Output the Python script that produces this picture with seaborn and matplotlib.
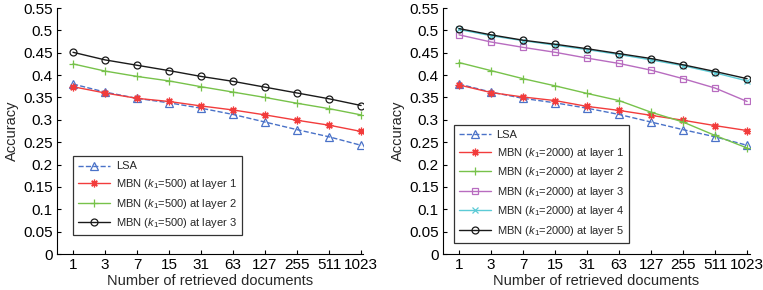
import numpy as np
import pandas as pd
import matplotlib
matplotlib.use("Agg")
import matplotlib.pyplot as plt
import seaborn as sns

# ---------------- data ----------------
docs = ["1", "3", "7", "15", "31", "63", "127", "255", "511", "1023"]
yticks = [0, 0.05, 0.1, 0.15, 0.2, 0.25, 0.3, 0.35, 0.4, 0.45, 0.5, 0.55]

lsa = [0.380, 0.362, 0.348, 0.338, 0.326, 0.312, 0.295, 0.278, 0.262, 0.243]

# left panel: k1 = 500
k500_l1 = [0.374, 0.360, 0.348, 0.341, 0.331, 0.322, 0.311, 0.299, 0.288, 0.274]
k500_l2 = [0.425, 0.409, 0.397, 0.387, 0.374, 0.362, 0.350, 0.337, 0.325, 0.311]
k500_l3 = [0.451, 0.434, 0.422, 0.410, 0.397, 0.386, 0.373, 0.360, 0.347, 0.332]

# right panel: k1 = 2000
k2000_l1 = [0.378, 0.361, 0.351, 0.343, 0.330, 0.321, 0.310, 0.299, 0.287, 0.276]
k2000_l2 = [0.428, 0.410, 0.392, 0.376, 0.359, 0.343, 0.317, 0.295, 0.265, 0.237]
k2000_l3 = [0.490, 0.474, 0.462, 0.451, 0.438, 0.426, 0.411, 0.392, 0.371, 0.341]
k2000_l4 = [0.502, 0.488, 0.477, 0.467, 0.457, 0.446, 0.434, 0.421, 0.405, 0.387]
k2000_l5 = [0.504, 0.490, 0.478, 0.469, 0.459, 0.448, 0.437, 0.423, 0.408, 0.392]

left_labels = ["LSA",
               r"MBN ($\mathit{k}_1$=500) at layer 1",
               r"MBN ($\mathit{k}_1$=500) at layer 2",
               r"MBN ($\mathit{k}_1$=500) at layer 3"]
right_labels = ["LSA",
                r"MBN ($\mathit{k}_1$=2000) at layer 1",
                r"MBN ($\mathit{k}_1$=2000) at layer 2",
                r"MBN ($\mathit{k}_1$=2000) at layer 3",
                r"MBN ($\mathit{k}_1$=2000) at layer 4",
                r"MBN ($\mathit{k}_1$=2000) at layer 5"]

# ---------------- style ----------------
sns.set_style("ticks")
plt.rcParams["font.family"] = ["Liberation Sans", "DejaVu Sans"]
plt.rcParams["mathtext.fontset"] = "custom"
plt.rcParams["mathtext.rm"] = "Liberation Sans"
plt.rcParams["mathtext.it"] = "Liberation Sans:italic"
plt.rcParams["xtick.direction"] = "in"
plt.rcParams["ytick.direction"] = "in"

C_BLUE = "#4a72c8"
C_RED = "#f23c3c"
C_GREEN = "#77c24a"
C_MAG = "#b86cc0"
C_CYAN = "#5ccbd6"
C_BLACK = "#1a1a1a"

styles = {
    "lsa": dict(color=C_BLUE, marker="^", linestyle="--", ms=5.2),
    "l1": dict(color=C_RED, marker=(8, 2, 0), linestyle="-", ms=5.5),
    "l2": dict(color=C_GREEN, marker="+", linestyle="-", ms=6),
    "l3sq": dict(color=C_MAG, marker="s", linestyle="-", ms=5),
    "l4": dict(color=C_CYAN, marker="x", linestyle="-", ms=4.5),
    "circ": dict(color=C_BLACK, marker="o", linestyle="-", ms=5),
}

fig = plt.figure(figsize=(7.63, 2.90), dpi=100)
axL = fig.add_axes([57 / 763, 36 / 290, 306 / 763, 246 / 290])
axR = fig.add_axes([443 / 763, 36 / 290, 307 / 763, 246 / 290])

pos = np.arange(len(docs))


def draw(ax, series, labels, style_keys):
    for vals, lab, key in zip(series, labels, style_keys):
        st = styles[key]
        df = pd.DataFrame({"x": pos, "y": vals})
        sns.lineplot(data=df, x="x", y="y", ax=ax, color=st["color"],
                     marker=st["marker"], linestyle=st["linestyle"],
                     markersize=st["ms"], markerfacecolor="none",
                     markeredgecolor=st["color"], markeredgewidth=0.9,
                     linewidth=1.0, label=lab, legend=False)


draw(axL, [lsa, k500_l1, k500_l2, k500_l3], left_labels,
     ["lsa", "l1", "l2", "circ"])
draw(axR, [lsa, k2000_l1, k2000_l2, k2000_l3, k2000_l4, k2000_l5], right_labels,
     ["lsa", "l1", "l2", "l3sq", "l4", "circ"])

for ax, xmax in ((axL, 9.06), (axR, 9.09)):
    ax.set_xlim(-0.5, xmax)
    ax.set_ylim(0, 0.55)
    ax.set_xticks(pos)
    ax.set_xticklabels(docs)
    ax.set_yticks(yticks)
    ax.set_yticklabels([f"{t:g}" for t in yticks])
    ax.tick_params(labelsize=11, length=3, width=0.8, pad=3, colors="black")
    ax.set_xlabel("Number of retrieved documents", fontsize=10.5, labelpad=1)
    ax.set_ylabel("Accuracy", fontsize=10.5, labelpad=3)
    sns.despine(ax=ax)
    for s in ("left", "bottom"):
        ax.spines[s].set_linewidth(0.8)
        ax.spines[s].set_color("black")
    ax.set_facecolor("white")

legL = axL.legend(loc="lower left", bbox_to_anchor=(0.052, 0.077),
                  fontsize=8, frameon=True, fancybox=False, edgecolor="black",
                  handlelength=2.9, labelspacing=0.5, borderpad=0.45,
                  handletextpad=0.5, borderaxespad=0)
legL.get_frame().set_linewidth(0.9)
legR = axR.legend(loc="lower left", bbox_to_anchor=(0.035, 0.045),
                  fontsize=8, frameon=True, fancybox=False, edgecolor="black",
                  handlelength=2.9, labelspacing=0.5, borderpad=0.45,
                  handletextpad=0.5, borderaxespad=0)
legR.get_frame().set_linewidth(0.9)

fig.savefig("out.png", dpi=100, facecolor="white")
